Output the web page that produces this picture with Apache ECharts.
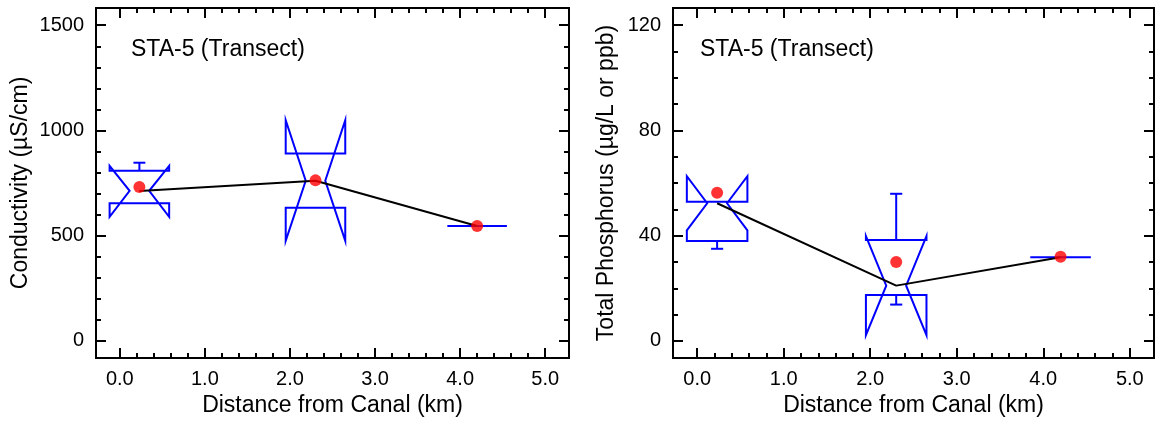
<!DOCTYPE html>
<html>
<head>
<meta charset="utf-8">
<script src="https://cdn.jsdelivr.net/npm/echarts@6/dist/echarts.min.js"></script>
<style>
html,body{margin:0;padding:0;background:#fff;}
#chart{width:1156px;height:427px;}
</style>
</head>
<body>
<div id="chart"></div>
<script>
// ---- data ----
const distances = [0.23, 2.3, 4.2];
const xTickLabels = ['0.0', '1.0', '2.0', '3.0', '4.0', '5.0'];

// Conductivity (µS/cm)
const condQ1 = [653, 632, 545];
const condQ3 = [808, 890, 545];
const condMedian = [712, 760, 545];
const condNotchLow = [589, 474, 545];
const condNotchHigh = [831, 1048, 545];
const condWhiskerLow = [653, 632, 545];
const condWhiskerHigh = [846, 890, 545];
const condMean = [730, 762, 545];
const condOutliers = [];

// Total Phosphorus (µg/L)
const tpQ1 = [38, 17.4, 31.8];
const tpQ3 = [52.9, 38.3, 31.8];
const tpMedian = [52.3, 21, 31.8];
const tpNotchLow = [42, 2.2, 31.8];
const tpNotchHigh = [62.6, 39.8, 31.8];
const tpWhiskerLow = [35, 13.8, 31.8];
const tpWhiskerHigh = [52.9, 55.9, 31.8];
const tpMean = [56.3, 30, 32];
const tpOutliers = [[0.23, 104]];

const annotation = 'STA-5 (Transect)';
const xTitle = 'Distance from Canal (km)';
const condTitle = 'Conductivity (µS/cm)';
const tpTitle = 'Total Phosphorus (µg/L or ppb)';

// ---- layout ----
const FONT = "'Liberation Sans', Arial, Helvetica, sans-serif";
const X_RANGE = [-0.28, 5.28];
const X_TICK_RANGE = [0, 5];
const panels = [
  {frame: {left: 96, top: 8, width: 473, height: 350}, yRange: [-83, 1582], yTick: [0, 1500], yInterval: 500, yMinor: 5,
   yTitle: condTitle, yNameGap: 64, annX: 131},
  {frame: {left: 673, top: 8, width: 481, height: 350}, yRange: [-6.5, 126.5], yTick: [0, 120], yInterval: 40, yMinor: 4,
   yTitle: tpTitle, yNameGap: 55, annX: 700}
];

function boxData(q1, q3, med, nl, nh, wl, wh) {
  return distances.map((d, i) => [d, q1[i], q3[i], med[i], nl[i], nh[i], wl[i], wh[i]]);
}
const boxes = [
  boxData(condQ1, condQ3, condMedian, condNotchLow, condNotchHigh, condWhiskerLow, condWhiskerHigh),
  boxData(tpQ1, tpQ3, tpMedian, tpNotchLow, tpNotchHigh, tpWhiskerLow, tpWhiskerHigh)
];
const medians = [condMedian, tpMedian];
const means = [condMean, tpMean];
const outliers = [condOutliers, tpOutliers];

const BLUE = '#0000ff';
function renderNotch(params, api) {
  const x = api.value(0);
  const q1 = api.value(1), q3 = api.value(2), med = api.value(3);
  const nl = api.value(4), nh = api.value(5), wl = api.value(6), wh = api.value(7);
  const H = 0.35, N = 0.115, C = 0.07;
  const p = (dx, y) => api.coord([x + dx, y]);
  const style = {fill: 'none', stroke: BLUE, lineWidth: 2};
  const children = [{
    type: 'polygon',
    shape: {points: [p(-H, q1), p(-H, nl), p(-N, med), p(-H, nh), p(-H, q3),
                     p(H, q3), p(H, nh), p(N, med), p(H, nl), p(H, q1)]},
    style: style
  }];
  function seg(a, b) {
    children.push({type: 'line', shape: {x1: a[0], y1: a[1], x2: b[0], y2: b[1]}, style: style});
  }
  if (wh > q3) { seg(p(0, q3), p(0, wh)); seg(p(-C, wh), p(C, wh)); }
  if (wl < q1) { seg(p(0, q1), p(0, wl)); seg(p(-C, wl), p(C, wl)); }
  return {type: 'group', children: children};
}

const option = {
  animation: false,
  backgroundColor: '#fff',
  textStyle: {fontFamily: FONT},
  grid: [], xAxis: [], yAxis: [], series: [], graphic: []
};

panels.forEach((pn, k) => {
  const f = pn.frame;
  const xs = X_RANGE[1] - X_RANGE[0];
  const ys = pn.yRange[1] - pn.yRange[0];
  const tLeft = f.left + (X_TICK_RANGE[0] - X_RANGE[0]) / xs * f.width;
  const tRight = f.left + (X_TICK_RANGE[1] - X_RANGE[0]) / xs * f.width;
  const tTop = f.top + (pn.yRange[1] - pn.yTick[1]) / ys * f.height;
  const tBottom = f.top + (pn.yRange[1] - pn.yTick[0]) / ys * f.height;

  const gFrame = option.grid.length;
  option.grid.push({left: f.left, top: f.top, width: f.width, height: f.height,
    show: true, borderColor: '#000', borderWidth: 2, backgroundColor: 'transparent', containLabel: false});
  const gTick = option.grid.length;
  option.grid.push({left: tLeft, top: tTop, width: tRight - tLeft, height: tBottom - tTop, containLabel: false});

  const xFrame = option.xAxis.length;
  option.xAxis.push({gridIndex: gFrame, type: 'value', min: X_RANGE[0], max: X_RANGE[1], show: false});
  const yFrame = option.yAxis.length;
  option.yAxis.push({gridIndex: gFrame, type: 'value', min: pn.yRange[0], max: pn.yRange[1], show: false});

  const noLine = {show: false, onZero: false};
  const tickStyle = {show: true, inside: true, length: 10, lineStyle: {color: '#000', width: 2}};
  const minorStyle = (n) => ({show: true, splitNumber: n, length: 5, lineStyle: {color: '#000', width: 2}});
  // x tick axes bottom/top
  option.xAxis.push({gridIndex: gTick, type: 'value', position: 'bottom', min: 0, max: 5, interval: 1,
    offset: (f.top + f.height) - tBottom,
    axisLine: noLine, axisTick: tickStyle, minorTick: minorStyle(5), splitLine: {show: false},
    axisLabel: {show: true, margin: 11, fontSize: 20, color: '#000', fontFamily: FONT,
      formatter: (v) => xTickLabels[Math.round(v)] || ''},
    name: xTitle, nameLocation: 'middle', nameGap: 36,
    nameTextStyle: {fontSize: 23, color: '#000', fontFamily: FONT}});
  option.xAxis.push({gridIndex: gTick, type: 'value', position: 'top', min: 0, max: 5, interval: 1,
    offset: tTop - f.top,
    axisLine: noLine, axisTick: tickStyle, minorTick: minorStyle(5), splitLine: {show: false},
    axisLabel: {show: false}});
  // y tick axes left/right
  option.yAxis.push({gridIndex: gTick, type: 'value', position: 'left', min: pn.yTick[0], max: pn.yTick[1], interval: pn.yInterval,
    offset: tLeft - f.left,
    axisLine: noLine, axisTick: tickStyle, minorTick: minorStyle(pn.yMinor), splitLine: {show: false},
    axisLabel: {show: true, margin: 12, fontSize: 20, color: '#000', fontFamily: FONT, formatter: (v) => String(v)},
    name: pn.yTitle, nameLocation: 'middle', nameGap: pn.yNameGap, nameRotate: 90,
    nameTextStyle: {fontSize: 23, color: '#000', fontFamily: FONT}});
  option.yAxis.push({gridIndex: gTick, type: 'value', position: 'right', min: pn.yTick[0], max: pn.yTick[1], interval: pn.yInterval,
    offset: (f.left + f.width) - tRight,
    axisLine: noLine, axisTick: tickStyle, minorTick: minorStyle(pn.yMinor), splitLine: {show: false},
    axisLabel: {show: false}});

  option.series.push({type: 'custom', xAxisIndex: xFrame, yAxisIndex: yFrame, renderItem: renderNotch,
    data: boxes[k], z: 2, clip: false});
  option.series.push({type: 'line', xAxisIndex: xFrame, yAxisIndex: yFrame,
    data: distances.map((d, i) => [d, medians[k][i]]), symbol: 'none',
    lineStyle: {color: '#000', width: 2}, z: 3});
  if (outliers[k].length) {
    option.series.push({type: 'scatter', xAxisIndex: xFrame, yAxisIndex: yFrame, data: outliers[k],
      symbol: 'emptyCircle', symbolSize: 6, itemStyle: {color: '#fff', borderColor: BLUE, borderWidth: 1.5}, z: 4});
  }
  option.series.push({type: 'scatter', xAxisIndex: xFrame, yAxisIndex: yFrame,
    data: distances.map((d, i) => [d, means[k][i]]), symbol: 'circle', symbolSize: 12,
    itemStyle: {color: '#ff0000'}, z: 5});

  option.graphic.push({type: 'text', left: pn.annX, top: 38,
    style: {text: annotation, fontSize: 23, fill: '#000', font: '23px ' + FONT}});
});

const chart = echarts.init(document.getElementById('chart'), null, {renderer: 'canvas'});
chart.setOption(option);
</script>
</body>
</html>
